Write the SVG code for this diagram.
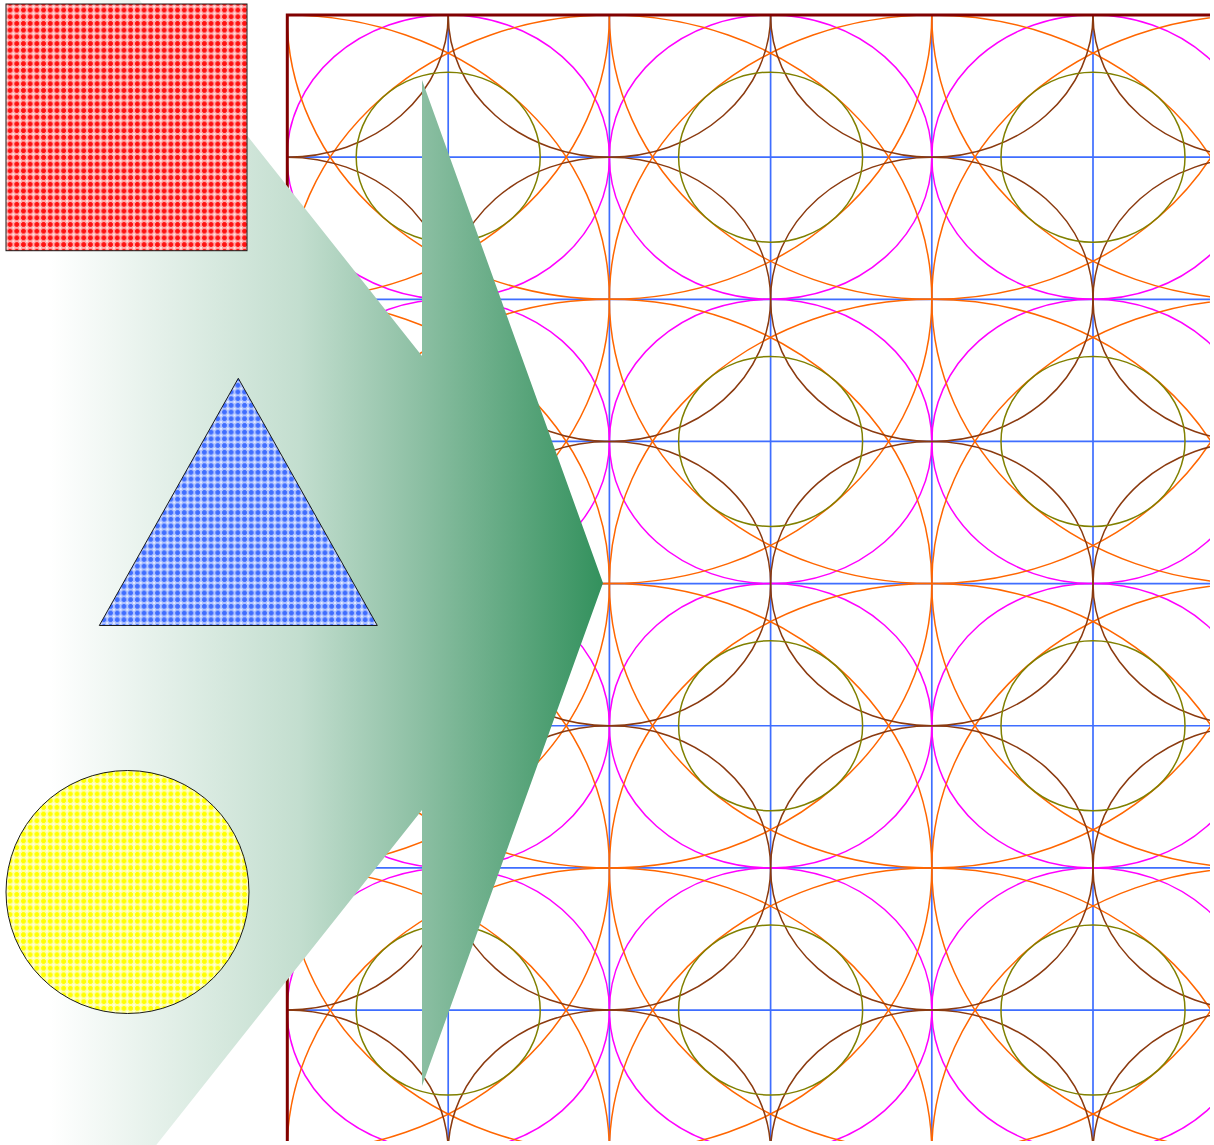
<svg xmlns="http://www.w3.org/2000/svg" width="1214" height="1145" viewBox="0 0 1214 1145">
<defs>
<style>
.bl{stroke:#3f6eff;stroke-width:1.7;fill:none}
.mg{stroke:#ff00ff;stroke-width:1.5;fill:none}
.ol{stroke:#808000;stroke-width:1.5;fill:none}
.br{stroke:#8b3a0f;stroke-width:1.5;fill:none}
.or{stroke:#ff6600;stroke-width:1.5;fill:none}
.shape{stroke:#1a1a1a;stroke-width:1}
</style>
<linearGradient id="gg" gradientUnits="userSpaceOnUse" x1="50" y1="0" x2="603" y2="0">
<stop offset="0" stop-color="#ffffff"/>
<stop offset="0.45" stop-color="rgb(195,222,207)"/>
<stop offset="0.67" stop-color="rgb(140,191,163)"/>
<stop offset="1" stop-color="#33915d"/>
</linearGradient>
<pattern id="pRed" patternUnits="userSpaceOnUse" width="6.7" height="6.7">
<rect width="6.7" height="6.7" fill="#ffaaaa"/>
<rect x="1" y="2" width="4.7" height="2.7" fill="#ff1010"/>
<rect x="2" y="1" width="2.7" height="4.7" fill="#ff1010"/>
<circle cx="0" cy="0" r="0.9" fill="#fff"/><circle cx="6.7" cy="0" r="0.9" fill="#fff"/>
<circle cx="0" cy="6.7" r="0.9" fill="#fff"/><circle cx="6.7" cy="6.7" r="0.9" fill="#fff"/>
</pattern>
<pattern id="pBlue" patternUnits="userSpaceOnUse" width="6.7" height="6.7">
<rect width="6.7" height="6.7" fill="#afc3ff"/>
<rect x="1" y="2" width="4.7" height="2.7" fill="#3f6dff"/>
<rect x="2" y="1" width="2.7" height="4.7" fill="#3f6dff"/>
<circle cx="0" cy="0" r="0.9" fill="#fff"/><circle cx="6.7" cy="0" r="0.9" fill="#fff"/>
<circle cx="0" cy="6.7" r="0.9" fill="#fff"/><circle cx="6.7" cy="6.7" r="0.9" fill="#fff"/>
</pattern>
<pattern id="pYel" patternUnits="userSpaceOnUse" width="6.7" height="6.7">
<rect width="6.7" height="6.7" fill="#ffffa6"/>
<rect x="1" y="2" width="4.7" height="2.7" fill="#ffff00"/>
<rect x="2" y="1" width="2.7" height="4.7" fill="#ffff00"/>
<circle cx="0" cy="0" r="0.9" fill="#fff"/><circle cx="6.7" cy="0" r="0.9" fill="#fff"/>
<circle cx="0" cy="6.7" r="0.9" fill="#fff"/><circle cx="6.7" cy="6.7" r="0.9" fill="#fff"/>
</pattern>
<clipPath id="gridClip"><rect x="287" y="15" width="923" height="1126"/></clipPath>
</defs>
<rect width="1214" height="1145" fill="#fff"/>
<g id="grid">
<g clip-path="url(#gridClip)">
<g class="bl">
<path d="M448.2,15V1141M609.4,15V1141M770.6,15V1141M931.8,15V1141M1093,15V1141"/>
<path d="M287,157.15H1210M287,299.3H1210M287,441.45H1210M287,583.6H1210M287,725.75H1210M287,867.9H1210M287,1010.05H1210"/>
</g>
<g class="mg">
<ellipse cx="448.2" cy="157.15" rx="161.2" ry="142.15"/><ellipse cx="770.6" cy="157.15" rx="161.2" ry="142.15"/><ellipse cx="1093" cy="157.15" rx="161.2" ry="142.15"/>
<ellipse cx="448.2" cy="441.45" rx="161.2" ry="142.15"/><ellipse cx="770.6" cy="441.45" rx="161.2" ry="142.15"/><ellipse cx="1093" cy="441.45" rx="161.2" ry="142.15"/>
<ellipse cx="448.2" cy="725.75" rx="161.2" ry="142.15"/><ellipse cx="770.6" cy="725.75" rx="161.2" ry="142.15"/><ellipse cx="1093" cy="725.75" rx="161.2" ry="142.15"/>
<ellipse cx="448.2" cy="1010.05" rx="161.2" ry="142.15"/><ellipse cx="770.6" cy="1010.05" rx="161.2" ry="142.15"/><ellipse cx="1093" cy="1010.05" rx="161.2" ry="142.15"/>
</g>
<g class="or">
<ellipse cx="287" cy="15" rx="322.4" ry="284.3"/><ellipse cx="609.4" cy="15" rx="322.4" ry="284.3"/><ellipse cx="931.8" cy="15" rx="322.4" ry="284.3"/><ellipse cx="1254.2" cy="15" rx="322.4" ry="284.3"/>
<ellipse cx="287" cy="299.3" rx="322.4" ry="284.3"/><ellipse cx="609.4" cy="299.3" rx="322.4" ry="284.3"/><ellipse cx="931.8" cy="299.3" rx="322.4" ry="284.3"/><ellipse cx="1254.2" cy="299.3" rx="322.4" ry="284.3"/>
<ellipse cx="287" cy="583.6" rx="322.4" ry="284.3"/><ellipse cx="609.4" cy="583.6" rx="322.4" ry="284.3"/><ellipse cx="931.8" cy="583.6" rx="322.4" ry="284.3"/><ellipse cx="1254.2" cy="583.6" rx="322.4" ry="284.3"/>
<ellipse cx="287" cy="867.9" rx="322.4" ry="284.3"/><ellipse cx="609.4" cy="867.9" rx="322.4" ry="284.3"/><ellipse cx="931.8" cy="867.9" rx="322.4" ry="284.3"/><ellipse cx="1254.2" cy="867.9" rx="322.4" ry="284.3"/>
<ellipse cx="287" cy="1152.2" rx="322.4" ry="284.3"/><ellipse cx="609.4" cy="1152.2" rx="322.4" ry="284.3"/><ellipse cx="931.8" cy="1152.2" rx="322.4" ry="284.3"/><ellipse cx="1254.2" cy="1152.2" rx="322.4" ry="284.3"/>
</g>
<g class="br">
<ellipse cx="287" cy="15" rx="161.2" ry="142.15"/><ellipse cx="609.4" cy="15" rx="161.2" ry="142.15"/><ellipse cx="931.8" cy="15" rx="161.2" ry="142.15"/><ellipse cx="1254.2" cy="15" rx="161.2" ry="142.15"/>
<ellipse cx="287" cy="299.3" rx="161.2" ry="142.15"/><ellipse cx="609.4" cy="299.3" rx="161.2" ry="142.15"/><ellipse cx="931.8" cy="299.3" rx="161.2" ry="142.15"/><ellipse cx="1254.2" cy="299.3" rx="161.2" ry="142.15"/>
<ellipse cx="287" cy="583.6" rx="161.2" ry="142.15"/><ellipse cx="609.4" cy="583.6" rx="161.2" ry="142.15"/><ellipse cx="931.8" cy="583.6" rx="161.2" ry="142.15"/><ellipse cx="1254.2" cy="583.6" rx="161.2" ry="142.15"/>
<ellipse cx="287" cy="867.9" rx="161.2" ry="142.15"/><ellipse cx="609.4" cy="867.9" rx="161.2" ry="142.15"/><ellipse cx="931.8" cy="867.9" rx="161.2" ry="142.15"/><ellipse cx="1254.2" cy="867.9" rx="161.2" ry="142.15"/>
<ellipse cx="287" cy="1152.2" rx="161.2" ry="142.15"/><ellipse cx="609.4" cy="1152.2" rx="161.2" ry="142.15"/><ellipse cx="931.8" cy="1152.2" rx="161.2" ry="142.15"/><ellipse cx="1254.2" cy="1152.2" rx="161.2" ry="142.15"/>
</g>
<g class="ol">
<ellipse cx="448.2" cy="157.15" rx="92" ry="85"/><ellipse cx="770.6" cy="157.15" rx="92" ry="85"/><ellipse cx="1093" cy="157.15" rx="92" ry="85"/>
<ellipse cx="448.2" cy="441.45" rx="92" ry="85"/><ellipse cx="770.6" cy="441.45" rx="92" ry="85"/><ellipse cx="1093" cy="441.45" rx="92" ry="85"/>
<ellipse cx="448.2" cy="725.75" rx="92" ry="85"/><ellipse cx="770.6" cy="725.75" rx="92" ry="85"/><ellipse cx="1093" cy="725.75" rx="92" ry="85"/>
<ellipse cx="448.2" cy="1010.05" rx="92" ry="85"/><ellipse cx="770.6" cy="1010.05" rx="92" ry="85"/><ellipse cx="1093" cy="1010.05" rx="92" ry="85"/>
</g>
</g>
<path d="M287.3,1141V15H1210" fill="none" stroke="#800000" stroke-width="3"/>
</g>
<g id="arrow">
<polygon points="0,-176 422,356 422,80 603,583 422,1086 422,810 0,1342" fill="url(#gg)"/>
</g>
<g id="square"><rect class="shape" x="6" y="4" width="241" height="246.7" fill="url(#pRed)"/></g>
<g id="triangle"><polygon class="shape" points="238.3,378.3 99.3,625.5 377.3,625.5" fill="url(#pBlue)"/></g>
<g id="circle"><circle class="shape" cx="127.5" cy="892" r="121.5" fill="url(#pYel)"/></g>
</svg>
